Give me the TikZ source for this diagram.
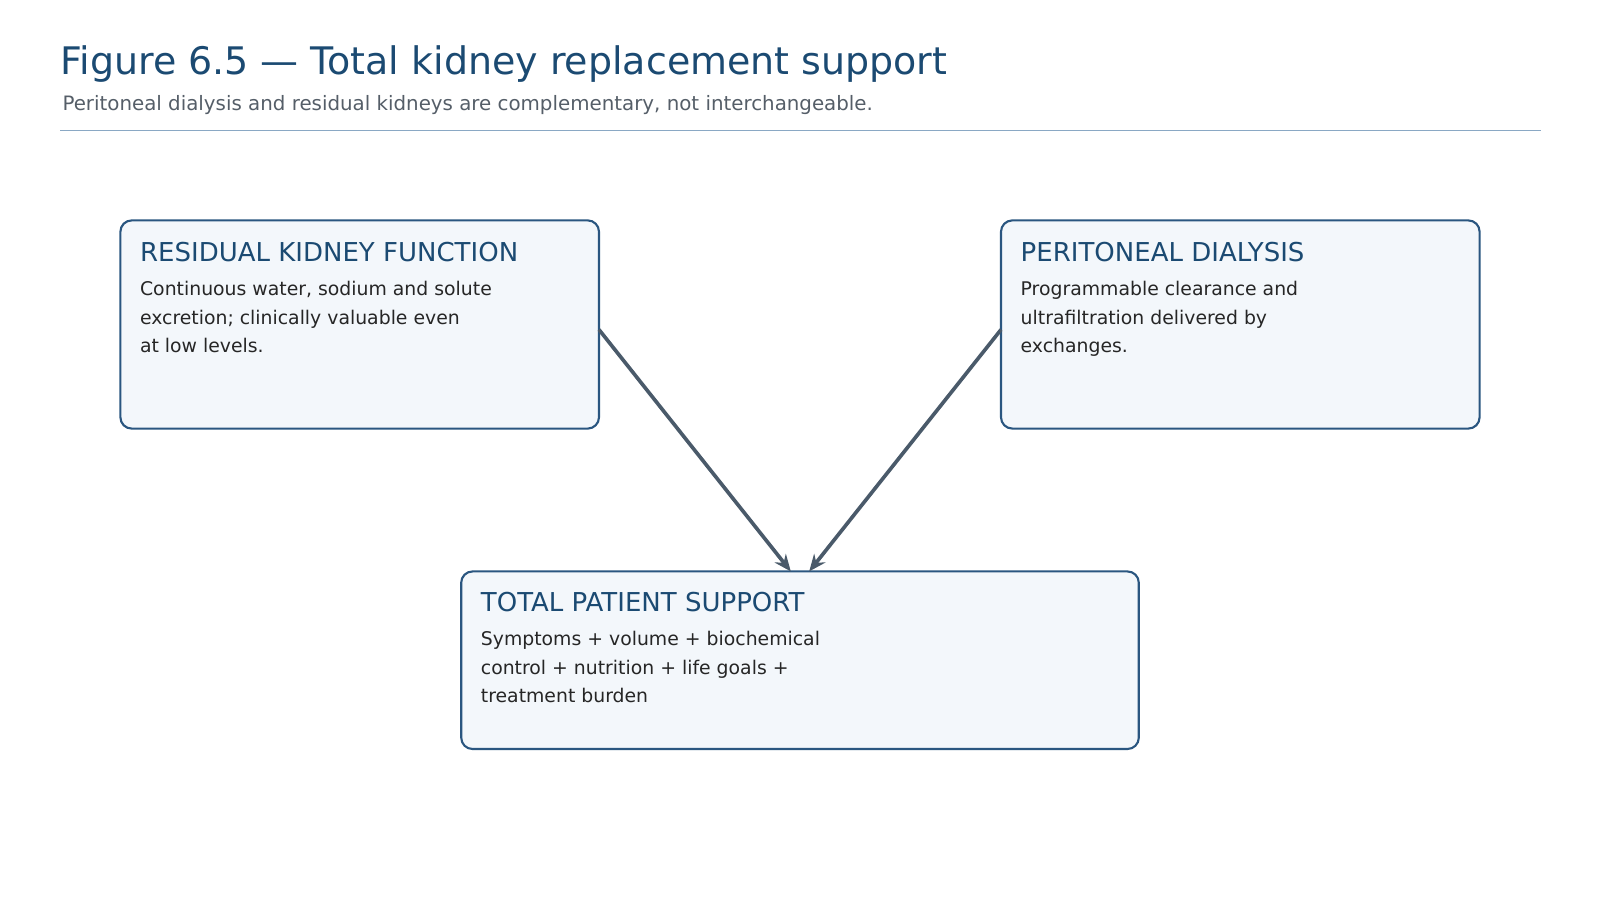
\documentclass[tikz,border=0pt]{standalone}
\usepackage{fontspec}
\setmainfont{DejaVu Sans}
\usetikzlibrary{arrows.meta}
\definecolor{navy}{HTML}{1B4A72}
\definecolor{boxline}{HTML}{2A5680}
\definecolor{boxfill}{HTML}{F3F7FB}
\definecolor{arr}{HTML}{4A5A6A}
\definecolor{sub}{HTML}{555E68}
\definecolor{rulec}{HTML}{8AA8C4}
\begin{document}
\begin{tikzpicture}[x=0.02551cm,y=-0.02551cm,
  card/.style={draw=boxline,line width=1.5pt,fill=boxfill,rounded corners=8pt},
  ttl/.style={anchor=north west,inner sep=0,text=navy,font=\fontsize{18.5}{22}\selectfont},
  body/.style={anchor=north west,inner sep=0,text=black!85,font=\fontsize{13.4}{20.5}\selectfont,align=left},
  conn/.style={draw=arr,line width=2.6pt,-{Stealth[length=12pt,width=10pt]}}]
\useasboundingbox (0,0) rectangle (1568,882);
\node[anchor=west,inner sep=0,text=navy,font=\fontsize{27}{32}\selectfont] (t) at (59,63) {Figure 6.5 — Total kidney replacement support};
\node[anchor=west,inner sep=0,text=sub,font=\fontsize{14.1}{17}\selectfont] (s) at (61,103) {Peritoneal dialysis and residual kidneys are complementary, not interchangeable.};
\draw[rulec,line width=1pt] (59,128) -- (1510,128);

\draw[card] (118,216) rectangle (587,420);
\node[ttl] (t1) at (137,237) {RESIDUAL KIDNEY FUNCTION};
\node[body] (b1) at (137,275) {Continuous water, sodium and solute\\excretion; clinically valuable even\\at low levels.};
\coordinate (l) at (587,323);

\draw[card] (981,216) rectangle (1450,420);
\node[ttl] (t2) at (1000,237) {PERITONEAL DIALYSIS};
\node[body] (b2) at (1000,275) {Programmable clearance and\\ultrafiltration delivered by\\exchanges.};
\coordinate (r) at (981,323);

\draw[card] (452,560) rectangle (1116,734);
\node[ttl] (t3) at (471,580) {TOTAL PATIENT SUPPORT};
\node[body] (b3) at (471,618) {Symptoms + volume + biochemical\\control + nutrition + life goals +\\treatment burden};
\coordinate (bl) at (775,560);
\coordinate (br) at (793,560);

\draw[conn] (l) -- (bl);
\draw[conn] (r) -- (br);
\end{tikzpicture}
\end{document}
